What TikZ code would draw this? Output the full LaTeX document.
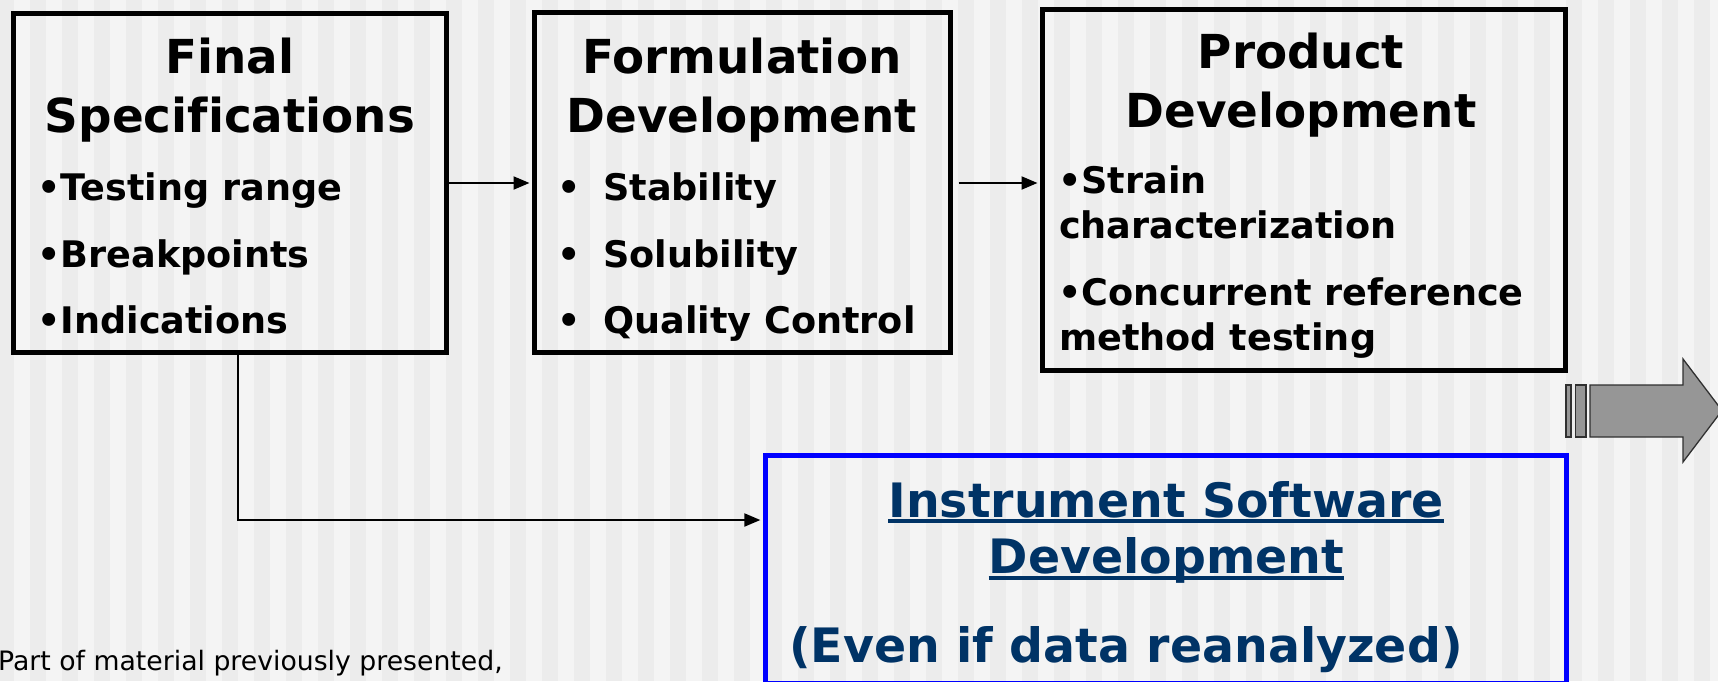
\documentclass[tikz,border=0pt]{standalone}
\usepackage{fontspec}
\setmainfont{DejaVu Sans}[Ligatures=NoCommon]
\usetikzlibrary{arrows.meta}
\definecolor{stripeL}{HTML}{F4F4F4}
\definecolor{stripeD}{HTML}{ECECEC}
\definecolor{navy}{HTML}{003366}
\definecolor{arrowgray}{HTML}{969696}
\definecolor{arrowedge}{HTML}{303030}
\newcommand{\fsHead}{\fontsize{46.8pt}{56pt}\selectfont\bfseries}
\newcommand{\fsItem}{\fontsize{36.6pt}{44pt}\selectfont\bfseries}
\newcommand{\fsSoft}{\fontsize{47.4pt}{56pt}\selectfont\bfseries}
\newcommand{\fsNote}{\fontsize{26.7pt}{32pt}\selectfont}
\begin{document}
\begin{tikzpicture}[x=1pt,y=-1pt,
  box/.style={draw=black,line width=5pt,rectangle,inner sep=0pt},
  bluebox/.style={draw=blue,line width=5.3pt,rectangle,inner sep=0pt},
  txt/.style={inner sep=0pt,anchor=base},
  txtl/.style={inner sep=0pt,anchor=base west},
  navytxt/.style={inner sep=0pt,text=navy},
  conn/.style={draw=black,line width=2pt,-{Triangle[length=16pt,width=13pt]}},
  uline/.style={draw=navy,line width=4pt}]
\useasboundingbox (0,0) rectangle (1718,681);
% background stripes
\fill[stripeL] (0,0) rectangle (1718,681);
\foreach \k in {0,...,54} {\fill[stripeD] ({32*\k-2},0) rectangle ({32*\k+14},681);}

% boxes
\node[box,minimum width=433pt,minimum height=339pt] (b1) at (230,183) {};
\node[box,minimum width=416pt,minimum height=340pt] (b2) at (742.5,182.5) {};
\node[box,minimum width=523pt,minimum height=361pt] (b3) at (1304,190) {};
\node[bluebox,minimum width=801pt,minimum height=228pt] (b4) at (1166,569.5) {};

% box 1 text
\node[txt] (t1a) at (230,73) {\fsHead Final};
\node[txt] (t1b) at (230,132) {\fsHead Specifications};
\node[txtl] (t1c) at (37,200) {\fsItem •Testing range};
\node[txtl] (t1d) at (37,267) {\fsItem •Breakpoints};
\node[txtl] (t1e) at (37,333) {\fsItem •Indications};

% box 2 text
\node[txt] (t2a) at (742,73) {\fsHead Formulation};
\node[txt] (t2b) at (742,132) {\fsHead Development};
\node[txtl] (t2c) at (557,200) {\fsItem \makebox[46pt][l]{•}Stability};
\node[txtl] (t2d) at (557,267) {\fsItem \makebox[46pt][l]{•}Solubility};
\node[txtl] (t2e) at (557,333) {\fsItem \makebox[46pt][l]{•}Quality Control};

% box 3 text
\node[txt] (t3a) at (1301,68) {\fsHead Product};
\node[txt] (t3b) at (1301,127) {\fsHead Development};
\node[txtl] (t3c) at (1058,193) {\fsItem •Strain};
\node[txtl] (t3d) at (1059,238) {\fsItem characterization};
\node[txtl] (t3e) at (1058,305) {\fsItem •Concurrent reference};
\node[txtl] (t3f) at (1059,350) {\fsItem method testing};

% box 4 text
\node[navytxt,anchor=base] (t4a) at (1166,517) {\fsSoft Instrument Software};
\node[navytxt,anchor=base] (t4b) at (1166.5,573) {\fsSoft Development};
\draw[uline] ([yshift=-4pt]t4a.base west) -- ([yshift=-4pt]t4a.base east);
\draw[uline] ([yshift=-5pt]t4b.base west) -- ([yshift=-5pt]t4b.base east);
\node[navytxt,anchor=base west] (t4c) at (789,662) {\fsSoft (Even if data reanalyzed)};

% footnote
\node[txtl] (note) at (-2,670) {\fsNote Part of material previously presented,};

% connectors
\draw[conn,shorten >=2.5pt] (b1.east |- 0,183) -- (b2.west |- 0,183);
\draw[conn,shorten <=5.5pt,shorten >=2.5pt] (b2.east |- 0,183) -- (b3.west |- 0,183);
\draw[conn,shorten >=2.5pt] ([xshift=8pt]b1.south) |- ([yshift=49.5pt]b4.west);

% block arrow
\draw[fill=arrowgray,draw=arrowedge,line width=1.3pt] (1566,385) rectangle (1571,437);
\draw[fill=arrowgray,draw=arrowedge,line width=1.3pt] (1575.5,385) rectangle (1586,437);
\draw[fill=arrowgray,draw=arrowedge,line width=1.3pt]
  (1590,385) -- (1683,385) -- (1683,359) -- (1722,410.5) -- (1683,462) -- (1683,437) -- (1590,437) -- cycle;
\end{tikzpicture}
\end{document}
